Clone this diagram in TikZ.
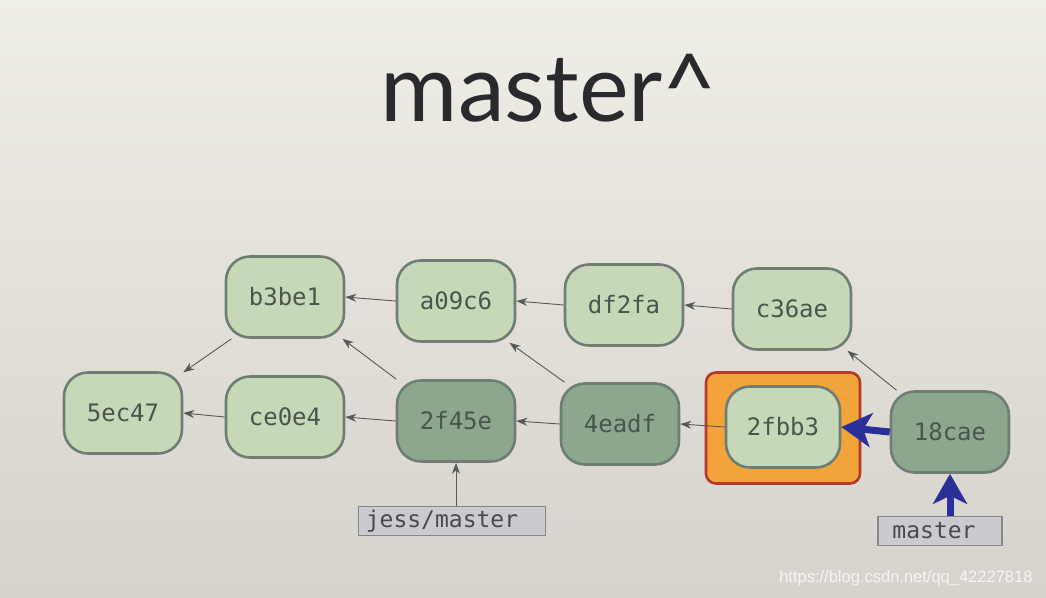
\documentclass[tikz,border=0pt]{standalone}
\usepackage{fontspec}
\setmainfont{Lato}
\setmonofont{DejaVu Sans Mono}
\newfontfamily\wmfont{Liberation Sans}
\usetikzlibrary{arrows.meta}
\definecolor{bgtop}{HTML}{EFEEE7}
\definecolor{bgbot}{HTML}{D6D2CC}
\definecolor{lightc}{HTML}{C6D8B8}
\definecolor{darkc}{HTML}{8DA78F}
\definecolor{bordc}{HTML}{6F7D73}
\definecolor{txtc}{HTML}{4A554D}
\definecolor{edgec}{HTML}{555A57}
\definecolor{labc}{HTML}{CACACF}
\definecolor{labb}{HTML}{85878C}
\definecolor{orangec}{HTML}{F2A43A}
\definecolor{redc}{HTML}{B5382A}
\definecolor{bluec}{HTML}{2B2F9A}
\definecolor{titlec}{HTML}{2A2A2E}
\tikzset{
  commit/.style={draw=bordc, line width=2.6pt, rounded corners=24pt, minimum width=118pt, minimum height=81pt,
    inner sep=0pt, text=txtc, font=\ttfamily\fontsize{24}{27}\selectfont},
  lightcommit/.style={commit, fill=lightc},
  darkcommit/.style={commit, fill=darkc},
  refbox/.style={draw=labb, line width=1.2pt, fill=labc, minimum height=29pt, inner xsep=6pt, inner ysep=0pt,
    text=titlec!85, font=\ttfamily\fontsize{23}{26}\selectfont, anchor=center},
  parent/.style={draw=edgec, line width=0.9pt, -{Stealth[length=11pt,width=8pt]}},
  bluearrow/.style={draw=bluec, line width=7pt, -{Stealth[length=30pt,width=34pt,inset=8pt]}},
}
\begin{document}
\begin{tikzpicture}[x=1pt,y=-1pt]
\useasboundingbox (0,0) rectangle (1046,597);
\shade[top color=bgtop, bottom color=bgbot] (0,0) rectangle (1046,597);
\node[text=titlec, font=\fontsize{94}{104}\selectfont] (title) at (549,88) {master\^{}};
% top row
\node[lightcommit] (b3be1) at (285,297) {b3be1};
\node[lightcommit] (a09c6) at (456,301) {a09c6};
\node[lightcommit] (df2fa) at (624,305) {df2fa};
\node[lightcommit] (c36ae) at (792,309) {c36ae};
% bottom row
\node[lightcommit] (5ec47) at (123,413) {5ec47};
\node[lightcommit] (ce0e4) at (285,417) {ce0e4};
\node[darkcommit] (2f45e) at (456,421) {2f45e};
\node[darkcommit] (4eadf) at (620,424) {4eadf};
\node[draw=redc, line width=2.6pt, fill=orangec, rounded corners=10pt, minimum width=154pt, minimum height=111pt] (sel) at (783,428) {};
\node[lightcommit, minimum width=114pt] (2fbb3) at (783,427) {2fbb3};
\node[darkcommit] (18cae) at (950,432) {18cae};
% refs
\node[refbox, minimum width=187pt] (jess) at (452,521) {jess/master\hspace*{20pt}};
\node[refbox, minimum width=124pt] (master) at (940,531) {master\hspace*{12pt}};
% parent edges
\draw[parent] (a09c6.west) -- (b3be1.east);
\draw[parent] (df2fa.west) -- (a09c6.east);
\draw[parent] (c36ae.west) -- (df2fa.east);
\draw[parent] (ce0e4.west) -- (5ec47.east);
\draw[parent] (2f45e.west) -- (ce0e4.east);
\draw[parent] (4eadf.west) -- (2f45e.east);
\draw[parent] (2fbb3.west) -- (4eadf.east);
\draw[parent] (b3be1.218) -- (5ec47.34);
\draw[parent] (2f45e.145) -- (b3be1.324);
\draw[parent] (4eadf.143) -- (a09c6.322);
\draw[parent] (18cae.142) -- (c36ae.323);
\draw[parent] (jess.north -| 2f45e.south) -- (2f45e.south);
% blue refs
\draw[bluearrow] (18cae.west) -- (2fbb3.east);
\draw[bluearrow] (master.north -| 18cae.south) -- (18cae.south);
% watermark
\node[text=white!92!gray, font=\wmfont\fontsize{16.5}{18}\selectfont, anchor=east] (wm) at (1036,578) {https://blog.csdn.net/qq\_42227818};
\end{tikzpicture}
\end{document}
